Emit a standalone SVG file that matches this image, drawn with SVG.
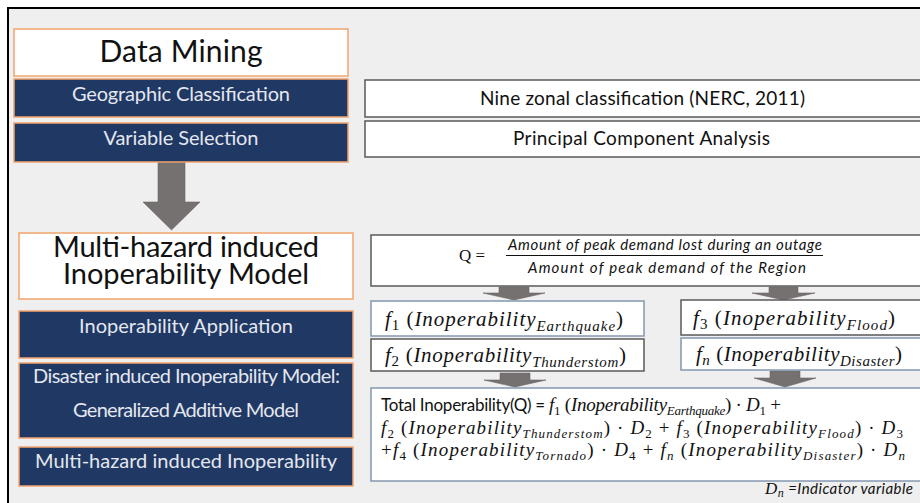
<svg xmlns="http://www.w3.org/2000/svg" width="920" height="503" viewBox="0 0 920 503">
<style>
.hdr{fill:#ffffff;stroke:#f2a46c;stroke-width:1.5}
.nav{fill:#203864;stroke:#f2a46c;stroke-width:1.5}
.rb{fill:#ffffff;stroke:#595959;stroke-width:1.5}
.rbl{fill:#ffffff;stroke:#8497b0;stroke-width:1.5}
.arr{fill:#767171;stroke:#6b6767;stroke-width:0.6}
.ht{font-family:Lato,"Liberation Sans",sans-serif;fill:#111111;text-anchor:middle}
.nt{font-family:Lato,"Liberation Sans",sans-serif;fill:#e4e7ef;font-size:20px;text-anchor:middle}
.rt{font-family:Lato,"Liberation Sans",sans-serif;fill:#111111;font-size:19px;text-anchor:middle}
.m{font-family:"Liberation Serif",serif;font-style:italic;fill:#111111}
.up{font-style:normal}
.cal{font-family:Lato,"Liberation Sans",sans-serif;font-style:normal}
.it{font-family:Lato,"Liberation Sans",sans-serif;font-style:italic;fill:#111111}
</style>
<rect x="0" y="0" width="920" height="503" fill="#ffffff"/>
<rect x="8" y="8" width="1000" height="1000" fill="#efefef" stroke="#000000" stroke-width="2"/>

<g id="connectors">
<path class="arr" d="M158,162 H185 V202 H200 L171.5,230 L143,202 H158 Z"/>
<path class="arr" d="M499,287 H529 V293 H545 L514,300 L483,293 H499 Z"/>
<path class="arr" d="M769,287 H798 V293 H815 L783.5,300 L752,293 H769 Z"/>
<path class="arr" d="M500,373 H530 V380 H546 L515,387 L484,380 H500 Z"/>
<path class="arr" d="M770,371 H800 V378 H816 L785,387 L754,378 H770 Z"/>
</g>

<g id="data-mining">
<rect class="hdr" x="14" y="29" width="334" height="47"/>
<text class="ht" x="181" y="62" font-size="30" textLength="163">Data Mining</text>
</g>
<g id="geographic-classification">
<rect class="nav" x="14" y="79" width="334" height="38"/>
<text class="nt" x="181" y="101" textLength="218">Geographic Classification</text>
</g>
<g id="variable-selection">
<rect class="nav" x="14" y="123" width="334" height="39"/>
<text class="nt" x="181" y="145" textLength="155">Variable Selection</text>
</g>

<g id="nine-zonal">
<rect class="rb" x="365" y="80" width="570" height="37"/>
<text class="rt" x="642.5" y="105" textLength="325">Nine zonal classification (NERC, 2011)</text>
</g>
<g id="pca">
<rect class="rb" x="365" y="121" width="570" height="36"/>
<text class="rt" x="641.5" y="145" textLength="257">Principal Component Analysis</text>
</g>

<g id="mhim">
<rect class="hdr" x="19" y="233" width="334" height="66"/>
<text class="ht" x="186" y="257" font-size="29" textLength="266">Multi-hazard induced</text>
<text class="ht" x="186" y="284" font-size="29" textLength="246">Inoperability Model</text>
</g>
<g id="inop-app">
<rect class="nav" x="19" y="311" width="334" height="47"/>
<text class="nt" x="186" y="333" textLength="214">Inoperability Application</text>
</g>
<g id="diim">
<rect class="nav" x="19" y="363" width="334" height="75"/>
<text class="nt" x="186.5" y="383" textLength="307">Disaster induced Inoperability Model:</text>
<text class="nt" x="186" y="417" textLength="226">Generalized Additive Model</text>
</g>
<g id="mhi">
<rect class="nav" x="19" y="447" width="334" height="39"/>
<text class="nt" x="186" y="468" font-size="21" textLength="302">Multi-hazard induced Inoperability</text>
</g>

<g id="q-formula">
<rect class="rb" x="371" y="235" width="564" height="51"/>
<text class="m up" x="459" y="261" font-size="17">Q =</text>
<line x1="506" y1="255.5" x2="823" y2="255.5" stroke="#111111" stroke-width="1"/>
<text class="it" x="508" y="250" font-size="15" textLength="314">Amount of peak demand lost during an outage</text>
<text class="it" x="528" y="273" font-size="15" textLength="278">Amount of peak demand of the Region</text>
</g>

<g id="f1">
<rect class="rbl" x="371" y="301" width="273" height="35"/>
<text class="m" x="385" y="326" font-size="21" textLength="238">f<tspan class="up" font-size="15" dy="4">1</tspan><tspan dy="-4" class="up"> (</tspan><tspan>Inoperability</tspan><tspan font-size="15" dy="5">Earthquake</tspan><tspan dy="-5" class="up">)</tspan></text>
</g>
<g id="f2">
<rect class="rb" x="371" y="339" width="273" height="32"/>
<text class="m" x="385" y="362" font-size="21" textLength="241">f<tspan class="up" font-size="15" dy="4">2</tspan><tspan dy="-4" class="up"> (</tspan><tspan>Inoperability</tspan><tspan font-size="15" dy="5">Thunderstom</tspan><tspan dy="-5" class="up">)</tspan></text>
</g>
<g id="f3">
<rect class="rb" x="681" y="300" width="254" height="35"/>
<text class="m" x="693" y="325" font-size="21" textLength="202">f<tspan class="up" font-size="15" dy="4">3</tspan><tspan dy="-4" class="up"> (</tspan><tspan>Inoperability</tspan><tspan font-size="15" dy="5">Flood</tspan><tspan dy="-5" class="up">)</tspan></text>
</g>
<g id="fn">
<rect class="rbl" x="681" y="338" width="254" height="32"/>
<text class="m" x="696" y="361" font-size="21" textLength="206">f<tspan font-size="15" dy="4">n</tspan><tspan dy="-4" class="up"> (</tspan><tspan>Inoperability</tspan><tspan font-size="15" dy="5">Disaster</tspan><tspan dy="-5" class="up">)</tspan></text>
</g>

<g id="total">
<rect class="rbl" x="371" y="388" width="564" height="93"/>
<text class="m" x="381" y="411" font-size="19" textLength="400"><tspan class="cal" font-size="17">Total Inoperability(Q) = </tspan><tspan>f</tspan><tspan class="up" font-size="13" dy="4">1</tspan><tspan dy="-4" class="up"> (</tspan><tspan>Inoperability</tspan><tspan font-size="13" dy="4">Earthquake</tspan><tspan dy="-4" class="up">) · </tspan><tspan>D</tspan><tspan class="up" font-size="13" dy="4">1</tspan><tspan dy="-4" class="up"> +</tspan></text>
<text class="m" x="381" y="434" font-size="19" textLength="522"><tspan>f</tspan><tspan class="up" font-size="13" dy="4">2</tspan><tspan dy="-4" class="up"> (</tspan><tspan>Inoperability</tspan><tspan font-size="13" dy="4">Thunderstom</tspan><tspan dy="-4" class="up">) · </tspan><tspan>D</tspan><tspan class="up" font-size="13" dy="4">2</tspan><tspan dy="-4" class="up"> + </tspan><tspan>f</tspan><tspan class="up" font-size="13" dy="4">3</tspan><tspan dy="-4" class="up"> (</tspan><tspan>Inoperability</tspan><tspan font-size="13" dy="4">Flood</tspan><tspan dy="-4" class="up">) · </tspan><tspan>D</tspan><tspan class="up" font-size="13" dy="4">3</tspan></text>
<text class="m" x="381" y="456" font-size="19" textLength="524"><tspan class="up">+</tspan><tspan>f</tspan><tspan class="up" font-size="13" dy="4">4</tspan><tspan dy="-4" class="up"> (</tspan><tspan>Inoperability</tspan><tspan font-size="13" dy="4">Tornado</tspan><tspan dy="-4" class="up">) · </tspan><tspan>D</tspan><tspan class="up" font-size="13" dy="4">4</tspan><tspan dy="-4" class="up"> + </tspan><tspan>f</tspan><tspan font-size="13" dy="4">n</tspan><tspan dy="-4" class="up"> (</tspan><tspan>Inoperability</tspan><tspan font-size="13" dy="4">Disaster</tspan><tspan dy="-4" class="up">) · </tspan><tspan>D</tspan><tspan font-size="13" dy="4">n</tspan></text>
</g>

<g id="indicator-note">
<text class="m" x="765" y="494" font-size="17" textLength="148">D<tspan font-size="12" dy="3">n</tspan><tspan class="it" font-size="15" dy="-3"> =Indicator variable</tspan></text>
</g>
</svg>
